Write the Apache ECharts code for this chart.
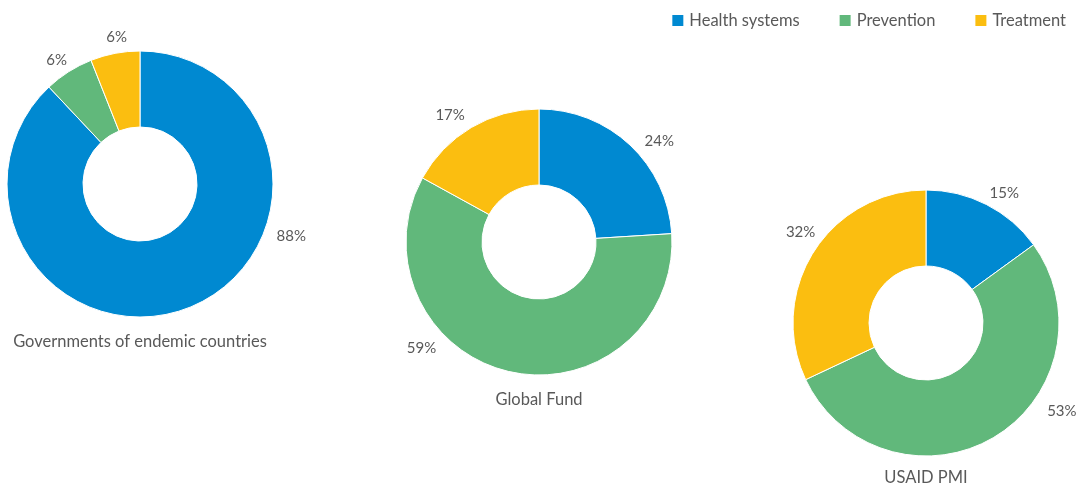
<!DOCTYPE html>
<html>
<head>
<meta charset="utf-8">
<script src="https://cdn.jsdelivr.net/npm/echarts@6/dist/echarts.min.js"></script>
<style>
  html, body { margin: 0; padding: 0; background: #fff; }
  #chart { width: 1079px; height: 488px; }
</style>
</head>
<body>
<div id="chart"></div>
<script>
// funding split by area, in percent
const categories = ["Health systems", "Prevention", "Treatment"];
const funders = ["Governments of endemic countries", "Global Fund", "USAID PMI"];
const governments = [88, 6, 6];
const globalFund = [24, 59, 17];
const usaidPmi = [15, 53, 32];

const colors = ["#0089d1", "#61b87b", "#fbbe10"];
const textColor = "#595959";
const fontFamily = "Lato, 'Noto Sans', sans-serif";

// where each donut sits, and where its % labels go (angle from 12 o'clock, clockwise)
const pies = [
  { values: governments, center: [140, 184], titleY: 333, labelAngle: [109, 326, 351], labelRadius: [160, 149, 149] },
  { values: globalFund, center: [539, 242], titleY: 391, labelAngle: [50, 228, 325], labelRadius: [157, 158, 155] },
  { values: usaidPmi, center: [926, 323], titleY: 469, labelAngle: [31, 123, 306], labelRadius: [152, 162, 155] }
];

const chart = echarts.init(document.getElementById("chart"));

const series = pies.map(function (p, i) {
  return {
    name: funders[i],
    type: "pie",
    center: p.center,
    radius: [57, 133],
    startAngle: 90,
    clockwise: true,
    avoidLabelOverlap: false,
    itemStyle: { borderColor: "#fff", borderWidth: 1 },
    label: {
      show: true,
      position: "outside",
      formatter: "{c}%",
      color: textColor,
      fontSize: 15,
      fontFamily: fontFamily
    },
    labelLine: { show: false },
    labelLayout: function (params) {
      const a = p.labelAngle[params.dataIndex] * Math.PI / 180;
      const r = p.labelRadius[params.dataIndex];
      return {
        x: p.center[0] + r * Math.sin(a),
        y: p.center[1] - r * Math.cos(a),
        align: "center",
        verticalAlign: "middle"
      };
    },
    emphasis: { disabled: true },
    data: categories.map(function (c, j) {
      return { name: c, value: p.values[j] };
    })
  };
});

chart.setOption({
  animation: false,
  color: colors,
  title: pies.map(function (p, i) {
    return {
      text: funders[i],
      left: p.center[0],
      top: p.titleY,
      textAlign: "center",
      padding: 0,
      textStyle: { color: textColor, fontSize: 16.5, fontWeight: "normal", fontFamily: fontFamily }
    };
  }),
  legend: {
    data: categories,
    right: 13,
    top: 12,
    padding: 0,
    itemWidth: 13,
    itemHeight: 13,
    itemGap: 38,
    icon: "rect",
    selectedMode: false,
    textStyle: { color: textColor, fontSize: 16.5, fontFamily: fontFamily }
  },
  series: series
});
</script>
</body>
</html>
